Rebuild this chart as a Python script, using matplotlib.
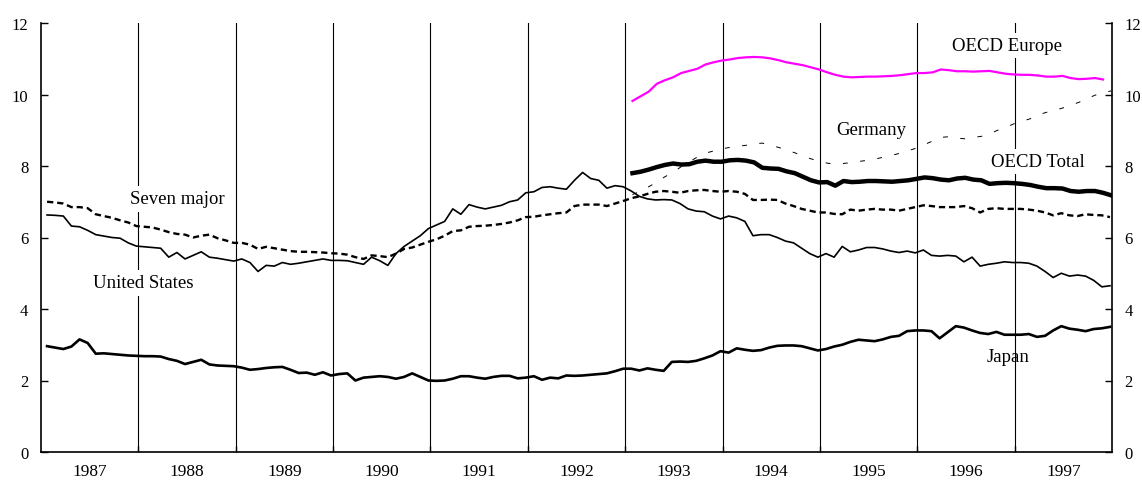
import numpy as np
import matplotlib
matplotlib.use("Agg")
import matplotlib.pyplot as plt

plt.rcParams['font.family'] = ['Liberation Serif', 'DejaVu Serif']
plt.rcParams['lines.scale_dashes'] = False

years = list(range(1987, 1998))

# monthly values, Jan 1987 - Dec 1997
united_states = [
    6.63, 6.62, 6.60, 6.32, 6.30, 6.20, 6.08, 6.04, 6.00, 5.98, 5.85, 5.76,
    5.74, 5.72, 5.70, 5.45, 5.58, 5.40, 5.50, 5.60, 5.45, 5.42, 5.38, 5.34,
    5.40, 5.30, 5.05, 5.22, 5.20, 5.30, 5.25, 5.28, 5.32, 5.36, 5.40, 5.36,
    5.36, 5.35, 5.30, 5.25, 5.45, 5.35, 5.22, 5.55, 5.75, 5.90, 6.05, 6.25,
    6.35, 6.45, 6.80, 6.65, 6.92, 6.85, 6.80, 6.85, 6.90, 7.00, 7.05, 7.25,
    7.28, 7.40, 7.42, 7.38, 7.35, 7.60, 7.82, 7.65, 7.60, 7.38, 7.45, 7.42,
    7.30, 7.15, 7.08, 7.05, 7.06, 7.05, 6.95, 6.80, 6.74, 6.72, 6.60, 6.52,
    6.60, 6.55, 6.45, 6.05, 6.08, 6.08, 6.00, 5.90, 5.85, 5.70, 5.55, 5.45,
    5.55, 5.45, 5.75, 5.60, 5.65, 5.72, 5.72, 5.68, 5.62, 5.58, 5.62, 5.57,
    5.65, 5.50, 5.48, 5.50, 5.48, 5.32, 5.45, 5.20, 5.25, 5.28, 5.32, 5.30,
    5.30, 5.28, 5.20, 5.05, 4.88, 5.00, 4.92, 4.95, 4.92, 4.80, 4.62, 4.65,
]
seven_major = [
    7.00, 6.98, 6.95, 6.85, 6.85, 6.82, 6.65, 6.60, 6.55, 6.48, 6.42, 6.32,
    6.30, 6.28, 6.22, 6.15, 6.10, 6.08, 6.00, 6.05, 6.08, 5.98, 5.92, 5.85,
    5.85, 5.80, 5.68, 5.74, 5.70, 5.66, 5.62, 5.60, 5.60, 5.59, 5.58, 5.56,
    5.55, 5.52, 5.45, 5.40, 5.50, 5.48, 5.45, 5.55, 5.68, 5.72, 5.80, 5.88,
    5.95, 6.05, 6.18, 6.20, 6.30, 6.32, 6.33, 6.35, 6.38, 6.42, 6.48, 6.57,
    6.58, 6.62, 6.65, 6.68, 6.70, 6.88, 6.92, 6.92, 6.92, 6.88, 6.95, 7.02,
    7.10, 7.15, 7.22, 7.28, 7.30, 7.28, 7.25, 7.30, 7.32, 7.33, 7.30, 7.28,
    7.30, 7.28, 7.22, 7.05, 7.05, 7.06, 7.05, 6.95, 6.88, 6.80, 6.75, 6.70,
    6.70, 6.66, 6.65, 6.78, 6.75, 6.78, 6.80, 6.78, 6.78, 6.75, 6.80, 6.85,
    6.90, 6.88, 6.85, 6.85, 6.85, 6.88, 6.82, 6.70, 6.80, 6.82, 6.80, 6.80,
    6.80, 6.78, 6.75, 6.70, 6.62, 6.68, 6.62, 6.60, 6.65, 6.63, 6.62, 6.57,
]
japan = [
    2.96, 2.92, 2.88, 2.95, 3.15, 3.05, 2.75, 2.76, 2.74, 2.72, 2.70, 2.69,
    2.68, 2.68, 2.67, 2.60, 2.55, 2.46, 2.52, 2.58, 2.45, 2.42, 2.41, 2.40,
    2.36, 2.30, 2.32, 2.35, 2.37, 2.38, 2.30, 2.21, 2.22, 2.16, 2.23, 2.14,
    2.18, 2.20, 2.00, 2.08, 2.10, 2.12, 2.10, 2.05, 2.10, 2.20, 2.10, 2.00,
    1.99, 2.00, 2.05, 2.12, 2.12, 2.08, 2.05, 2.10, 2.13, 2.13, 2.06, 2.08,
    2.12, 2.02, 2.08, 2.06, 2.14, 2.13, 2.14, 2.16, 2.18, 2.20, 2.26, 2.33,
    2.33, 2.28, 2.34, 2.30, 2.27, 2.52, 2.53, 2.52, 2.55, 2.62, 2.70, 2.82,
    2.78, 2.90, 2.86, 2.83, 2.85, 2.92, 2.97, 2.98, 2.98, 2.96, 2.90, 2.84,
    2.88, 2.95, 3.00, 3.08, 3.14, 3.12, 3.10, 3.15, 3.22, 3.25, 3.38, 3.40,
    3.40, 3.38, 3.18, 3.35, 3.52, 3.48, 3.40, 3.33, 3.30, 3.36, 3.28, 3.28,
    3.28, 3.30, 3.22, 3.25, 3.40, 3.52, 3.45, 3.42, 3.38, 3.44, 3.46, 3.50,
]

# monthly values, Jan 1993 - Dec 1997
oecd_total = [
    7.80, 7.84, 7.90, 7.97, 8.03, 8.07, 8.04, 8.05, 8.12, 8.15, 8.12, 8.12,
    8.16, 8.17, 8.15, 8.10, 7.95, 7.93, 7.92, 7.85, 7.80, 7.70, 7.60, 7.54,
    7.55, 7.45, 7.58, 7.55, 7.56, 7.58, 7.58, 7.57, 7.56, 7.58, 7.60, 7.64,
    7.68, 7.66, 7.62, 7.60, 7.65, 7.67, 7.62, 7.60, 7.50, 7.52, 7.53, 7.52,
    7.50, 7.47, 7.42, 7.38, 7.38, 7.37, 7.30, 7.28, 7.30, 7.30, 7.25, 7.18,
]
germany = [
    7.20, 7.30, 7.42, 7.55, 7.70, 7.82, 7.98, 8.12, 8.25, 8.36, 8.42, 8.48,
    8.52, 8.55, 8.58, 8.62, 8.64, 8.58, 8.52, 8.45, 8.37, 8.28, 8.20, 8.14,
    8.08, 8.05, 8.07, 8.10, 8.13, 8.16, 8.20, 8.25, 8.30, 8.36, 8.43, 8.50,
    8.60, 8.70, 8.80, 8.82, 8.78, 8.76, 8.80, 8.83, 8.90, 9.00, 9.08, 9.18,
    9.25, 9.32, 9.43, 9.50, 9.56, 9.62, 9.70, 9.78, 9.88, 9.98, 10.05, 10.10,
]
oecd_europe = [
    9.82, 9.95, 10.08, 10.30, 10.40, 10.48, 10.60, 10.66, 10.72, 10.84, 10.90, 10.95,
    10.98, 11.02, 11.04, 11.05, 11.04, 11.01, 10.96, 10.90, 10.86, 10.82, 10.76, 10.70,
    10.62, 10.55, 10.50, 10.48, 10.49, 10.50, 10.50, 10.51, 10.52, 10.54, 10.57, 10.60,
    10.60, 10.62, 10.70, 10.68, 10.65, 10.65, 10.64, 10.65, 10.66, 10.62, 10.58, 10.56,
    10.55, 10.55, 10.53, 10.50, 10.50, 10.52, 10.46, 10.43, 10.44, 10.46, 10.42,
]

t_all = 1987 + (np.arange(len(united_states)) + 0.75) / 12
t_oecd = 1993 + (np.arange(len(oecd_total)) + 0.9) / 12

fig = plt.figure(figsize=(11.42, 4.85), dpi=100)
ax = fig.add_axes([41/1142, 32/485, (1112-41)/1142, (453-24)/485])

# year separators
for y in years[1:]:
    ax.plot([y, y], [0, 12], color='black', lw=0.8, zorder=1)

ax.plot(t_all, united_states, color='black', lw=1.2, zorder=3)
ls7, = ax.plot(t_all, seven_major, color='black', lw=1.7, zorder=3)
ls7.set_dashes([4.5, 2.8])
ax.plot(t_all, japan, color='black', lw=1.9, zorder=3)
ax.plot(t_oecd, oecd_total, color='black', lw=3.2, zorder=3)
lg, = ax.plot(t_oecd, germany, color='black', lw=0.7, zorder=3)
lg.set_dashes([3.5, 9])
ax.plot(t_oecd[:len(oecd_europe)], oecd_europe, color='#ff00ff', lw=1.6, zorder=3)

box = dict(facecolor='white', edgecolor='none', pad=3)
ax.text(1988.40, 7.08, 'Seven major', fontsize=13.5, ha='center', va='center', bbox=box, zorder=4)
ax.text(1988.05, 4.73, 'United States', fontsize=13.5, ha='center', va='center', bbox=box, zorder=4)
ax.text(1996.925, 11.37, 'OECD Europe', fontsize=13.5, ha='center', va='center', bbox=box, zorder=4)
ax.text(1995.53, 9.03, 'Germany', fontsize=13.5, ha='center', va='center', bbox=box, zorder=4)
ax.text(1997.24, 8.12, 'OECD Total', fontsize=13.5, ha='center', va='center', bbox=box, zorder=4)
ax.text(1996.935, 2.68, 'Japan', fontsize=13.5, ha='center', va='center', zorder=4)

ax.set_xlim(1987, 1998)
ax.set_ylim(0, 12)
ax.set_yticks(range(0, 13, 2))
ax.set_xticks(years[1:])
ax.set_xticklabels([])
ax.set_xticks([y + 0.5 for y in years], minor=True)
ax.set_xticklabels([str(y) for y in years], minor=True)
ax.tick_params(axis='x', which='major', direction='in', length=4, width=1)
ax.tick_params(axis='x', which='minor', length=0, pad=8, labelsize=12.5)
ax.tick_params(axis='y', direction='in', length=5, width=1, pad=9, labelsize=12,
               right=True, labelright=True)
ax.spines['top'].set_visible(False)
for s in ['left', 'right', 'bottom']:
    ax.spines[s].set_linewidth(1.2)

fig.savefig('out.png', dpi=100)
